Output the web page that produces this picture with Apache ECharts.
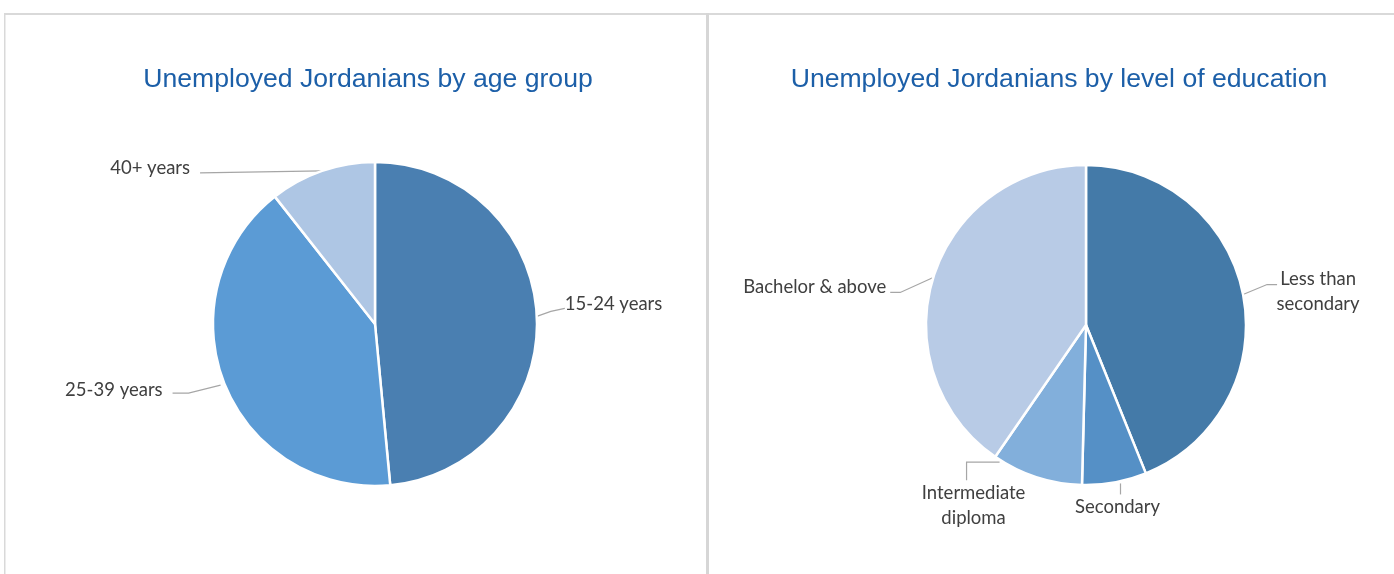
<!DOCTYPE html>
<html><head><meta charset="utf-8">
<script src="https://cdn.jsdelivr.net/npm/echarts@6/dist/echarts.min.js"></script>
<style>html,body{margin:0;padding:0;background:#fff}#c{width:1394px;height:574px}</style>
</head><body><div id="c"></div>
<script>
// ---- data ----
const titles = ['Unemployed Jordanians by age group', 'Unemployed Jordanians by level of education'];
const ageCategories = ['15-24 years', '25-39 years', '40+ years'];
const ageValues = [48.5, 40.9, 10.6];
const eduCategories = ['Less than secondary', 'Secondary', 'Intermediate diploma', 'Bachelor & above'];
const eduValues = [43.9, 6.5, 9.2, 40.4];

// ---- style ----
const ageColors = ['#4a7fb1', '#5b9bd5', '#aec6e4'];
const eduColors = ['#447aa8', '#5590c6', '#82afdb', '#b8cbe6'];
const labelText = {
  'Less than secondary': 'Less than\nsecondary',
  'Intermediate diploma': 'Intermediate\ndiploma'
};
// label-line geometry relative to the anchor point the library computes on the slice edge
const labelGeom = {
  '15-24 years':          {start: [0, 0],    turn: [14, -5],  end: [28, -8],  text: [28, -12], align: 'left',   va: 'middle'},
  '40+ years':            {start: [0, 0],    turn: [0, 0],    end: [-122, 2], text: [-132, -3], align: 'right', va: 'middle'},
  '25-39 years':          {start: [-4, 1],   turn: [-36, 9],  end: [-52, 9],  text: [-62, 6],  align: 'right',  va: 'middle'},
  'Less than secondary':  {start: [0, 0],    turn: [24, -10], end: [34, -10], text: [75, -3],  align: 'center', va: 'middle'},
  'Secondary':            {start: [6, 1],    turn: [6, 12],   end: [6, 12],   text: [3, 12],   align: 'center', va: 'top'},
  'Intermediate diploma': {start: [-37, -15], turn: [-70, -15], end: [-70, 3], text: [-63, 3], align: 'center', va: 'top'},
  'Bachelor & above':     {start: [0, 0],    turn: [-33, 15], end: [-43, 15], text: [-47, 10], align: 'right',  va: 'middle'}
};

function makeLayout(names) {
  return function (p) {
    const g = labelGeom[names[p.dataIndex]];
    const pts = p.labelLinePoints;
    if (!g || !pts) return {};
    const s = pts[0];
    const P = d => [s[0] + d[0], s[1] + d[1]];
    return {
      x: s[0] + g.text[0], y: s[1] + g.text[1],
      align: g.align, verticalAlign: g.va,
      labelLinePoints: [P(g.start), P(g.turn), P(g.end)]
    };
  };
}

const labelStyle = {
  show: true, position: 'outside',
  color: '#404040', fontFamily: 'Lato', fontSize: 18.5, lineHeight: 25,
  formatter: p => labelText[p.name] || p.name
};
const lineStyle = {show: true, length: 10, length2: 10, lineStyle: {color: '#a6a6a6', width: 1.2}};

function pieData(names, values, colors) {
  return names.map((n, i) => ({name: n, value: values[i], itemStyle: {color: colors[i]}}));
}

const titleStyle = {fontFamily: 'Liberation Sans', fontSize: 26.6, fontWeight: 'normal', color: '#1c5fa8'};

const chart = echarts.init(document.getElementById('c'), null, {renderer: 'canvas'});
chart.setOption({
  animation: false,
  backgroundColor: '#ffffff',
  title: [
    {text: titles[0], left: 363, top: 61, textAlign: 'center', textStyle: titleStyle},
    {text: titles[1], left: 1054, top: 61, textAlign: 'center', textStyle: titleStyle}
  ],
  graphic: [
    {type: 'rect', shape: {x: 4, y: 13, width: 1390, height: 2}, style: {fill: '#d9d9d9'}, silent: true},
    {type: 'rect', shape: {x: 4, y: 13, width: 1.5, height: 561}, style: {fill: '#d9d9d9'}, silent: true},
    {type: 'rect', shape: {x: 706, y: 13, width: 3, height: 561}, style: {fill: '#d6d6d6'}, silent: true}
  ],
  series: [
    {
      type: 'pie', center: [375, 324], radius: 162, startAngle: 90, clockwise: true,
      itemStyle: {borderColor: '#ffffff', borderWidth: 2.5},
      label: labelStyle, labelLine: lineStyle,
      labelLayout: makeLayout(ageCategories),
      emphasis: {disabled: true},
      data: pieData(ageCategories, ageValues, ageColors)
    },
    {
      type: 'pie', center: [1086, 325], radius: 160, startAngle: 90, clockwise: true,
      itemStyle: {borderColor: '#ffffff', borderWidth: 2.5},
      label: labelStyle, labelLine: lineStyle,
      labelLayout: makeLayout(eduCategories),
      emphasis: {disabled: true},
      data: pieData(eduCategories, eduValues, eduColors)
    }
  ]
});
</script>
</body></html>
